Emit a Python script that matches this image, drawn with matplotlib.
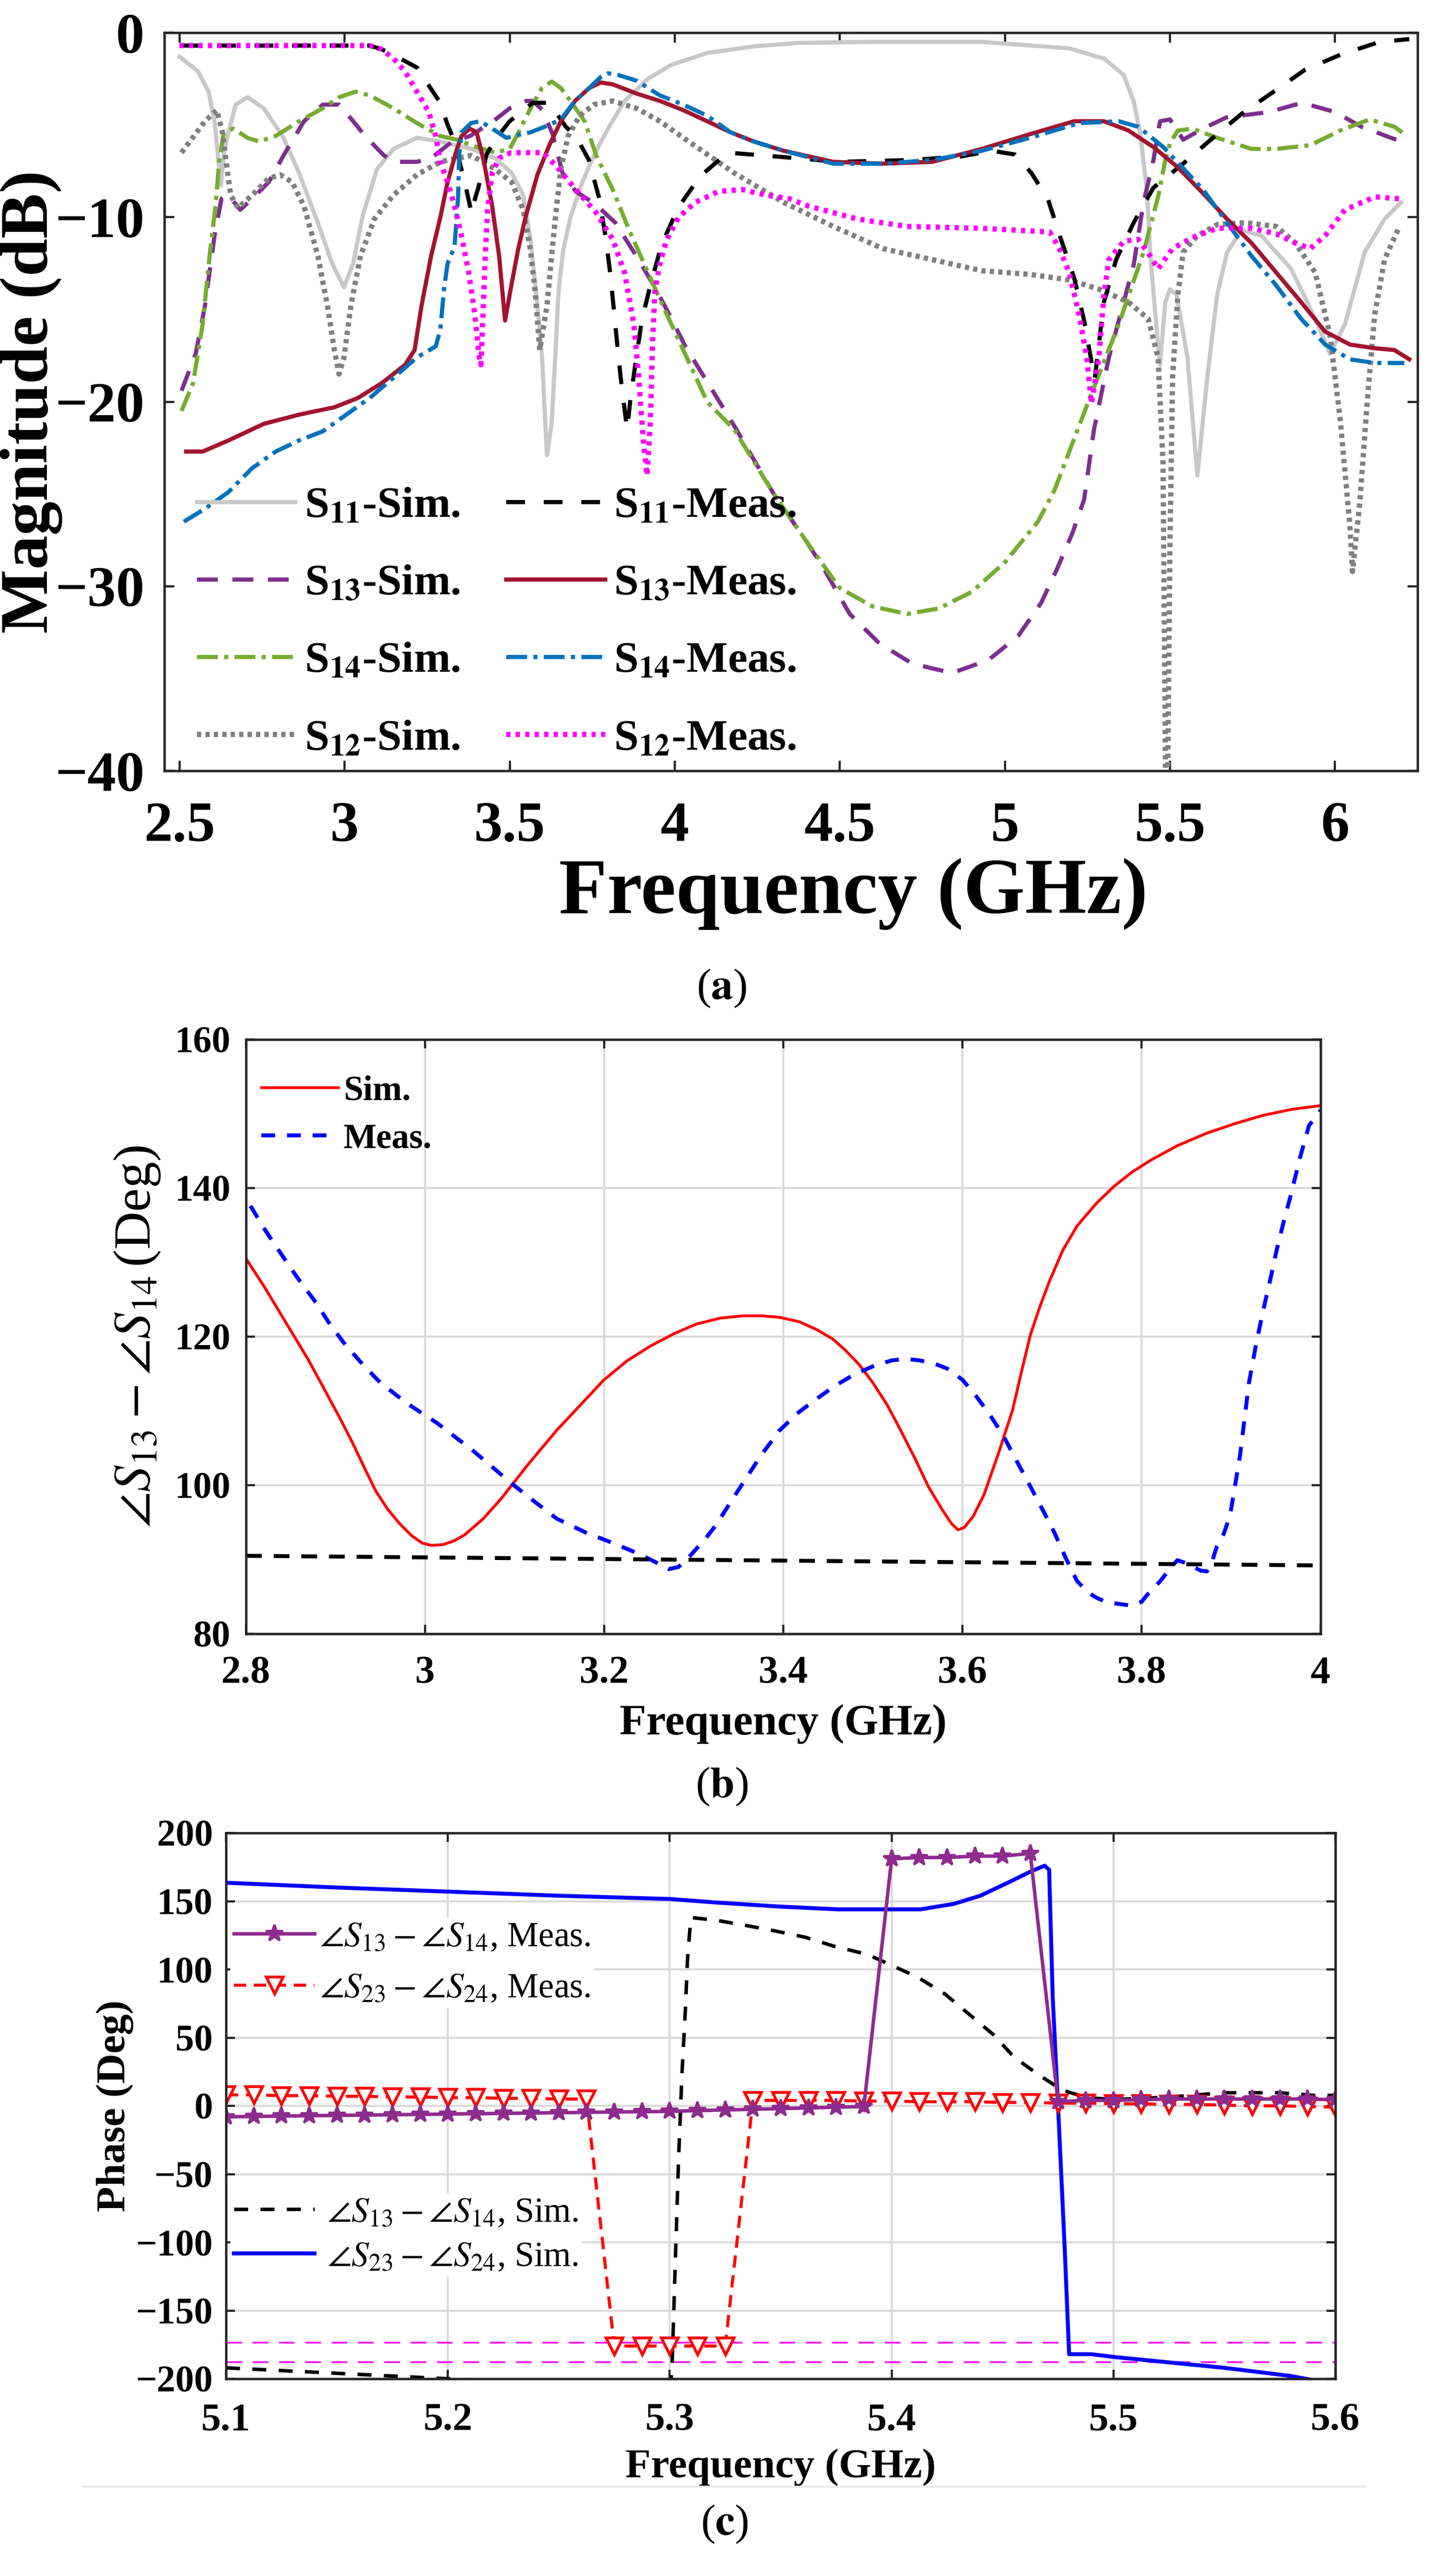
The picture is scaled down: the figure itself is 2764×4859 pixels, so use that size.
import numpy as np
import matplotlib
matplotlib.use("Agg")
import matplotlib.pyplot as plt
from matplotlib.lines import Line2D

plt.rcParams['font.family'] = ['Liberation Serif', 'DejaVu Serif']
plt.rcParams['mathtext.fontset'] = 'stix'

# ---------------- Panel (a) data: magnitude (dB) vs frequency (GHz) ----------------
s11_sim_f = [2.5, 2.556, 2.588, 2.606, 2.616, 2.625, 2.635, 2.648, 2.67, 2.706, 2.755, 2.812, 2.862, 2.919, 2.962,
             2.998, 3.026, 3.055, 3.098, 3.148, 3.219, 3.29, 3.384, 3.456, 3.506, 3.541, 3.563, 3.584, 3.598, 3.613,
             3.627, 3.638, 3.648, 3.662, 3.684, 3.72, 3.755, 3.798, 3.848, 3.919, 3.99, 4.098, 4.24, 4.38, 4.6, 4.93,
             5.195, 5.3, 5.36, 5.39, 5.41, 5.43, 5.44, 5.456, 5.47, 5.486, 5.5, 5.52, 5.553, 5.583, 5.613, 5.643,
             5.673, 5.717, 5.777, 5.867, 5.94, 5.985, 6.03, 6.09, 6.15, 6.2]
s11_sim_db = [-1.3, -2.1, -3.2, -4.8, -6.6, -8.3, -6.5, -5.4, -3.9, -3.5, -4.1, -5.6, -7.6, -10.3, -12.5,
              -13.8, -12.5, -9.9, -7.4, -6.3, -5.7, -5.9, -6.3, -6.8, -7.6, -8.8, -11.2, -14.8, -17.6, -22.9,
              -21.2, -17.6, -14.0, -11.8, -10.0, -8.1, -6.65, -5.2, -3.7, -2.5, -1.74, -1.1, -0.74, -0.55, -0.5, -0.5,
              -0.85, -1.4, -2.3, -3.7, -5.5, -8.5, -11.9, -15.3, -18.0, -14.6, -13.9, -14.2, -17.6, -24.0, -18.7, -14.2,
              -11.9, -10.7, -11.0, -12.8, -15.5, -17.4, -15.8, -11.9, -10.1, -9.2]

s11_meas_f = [2.5, 3.076, 3.112, 3.148, 3.22, 3.26, 3.29, 3.31, 3.335, 3.355, 3.37, 3.385, 3.395, 3.405, 3.43,
              3.456, 3.5, 3.57, 3.62, 3.67, 3.7, 3.74, 3.77, 3.79, 3.805, 3.816, 3.828, 3.84, 3.856, 3.866, 3.9,
              3.926, 3.96, 4.01, 4.076, 4.16, 4.3, 4.5, 4.72, 4.87, 4.96, 5.03, 5.08, 5.13, 5.17, 5.21, 5.24,
              5.262, 5.272, 5.3, 5.337, 5.39, 5.45, 5.54, 5.63, 5.717, 5.822, 5.91, 6.016, 6.135, 6.225]
s11_meas_db = [-0.7, -0.7, -0.9, -1.2, -1.9, -3.0, -3.8, -4.9, -6.0, -7.5, -8.6, -9.8, -9.0, -8.4, -6.6,
               -5.8, -4.8, -3.8, -3.8, -5.1, -5.6, -6.9, -8.9, -11.0, -13.1, -15.1, -17.3, -19.3, -21.5, -19.8, -15.6,
               -13.7, -11.5, -9.5, -7.8, -6.5, -6.7, -7.0, -6.9, -6.7, -6.4, -6.6, -7.6, -9.0, -11.2, -13.3, -15.6,
               -17.8, -18.8, -14.6, -12.3, -10.3, -8.4, -7.1, -5.7, -4.4, -3.1, -2.0, -1.2, -0.5, -0.35]

s13_sim_f = [2.506, 2.549, 2.577, 2.606, 2.627, 2.648, 2.684, 2.72, 2.77, 2.82, 2.877, 2.934, 2.983, 3.026,
             3.062, 3.119, 3.148, 3.219, 3.262, 3.326, 3.38, 3.45, 3.5, 3.55, 3.57, 3.6, 3.63, 3.66, 3.7, 3.76,
             3.82, 3.88, 3.94, 3.99, 4.032, 4.18, 4.3, 4.4, 4.45, 4.53, 4.62, 4.72, 4.84, 4.95, 5.04, 5.11, 5.157,
             5.205, 5.24, 5.27, 5.315, 5.36, 5.39, 5.42, 5.45, 5.47, 5.5, 5.54, 5.6, 5.67, 5.8, 5.9, 6.0, 6.08, 6.2]
s13_sim_db = [-19.4, -17.4, -14.8, -11.0, -9.0, -8.8, -9.6, -9.0, -8.1, -6.5, -4.8, -3.9, -3.9, -4.8,
              -5.6, -6.65, -7.0, -7.0, -6.8, -5.9, -5.6, -4.8, -4.1, -3.7, -3.7, -4.2, -5.5, -7.6, -8.6, -9.3,
              -10.3, -12.0, -13.8, -15.5, -17.0, -21.3, -25.0, -27.6, -29.0, -31.5, -33.1, -34.2, -34.7, -34.0,
              -32.7, -30.9, -29.1, -27.1, -25.3, -21.5, -17.6, -14.6, -12.6, -9.2, -6.9, -4.8, -4.7, -5.8, -5.2, -4.6,
              -4.3, -3.8, -4.3, -5.1, -5.9]

s13_meas_f = [2.52, 2.57, 2.648, 2.755, 2.862, 2.969, 3.04, 3.112, 3.183, 3.212, 3.233, 3.262, 3.29, 3.312,
              3.337, 3.354, 3.379, 3.4, 3.422, 3.447, 3.468, 3.486, 3.504, 3.525, 3.548, 3.584, 3.62, 3.655, 3.698,
              3.741, 3.776, 3.812, 3.884, 3.955, 4.026, 4.098, 4.169, 4.24, 4.33, 4.48, 4.63, 4.78, 4.93, 5.076,
              5.21, 5.3, 5.374, 5.45, 5.524, 5.6, 5.673, 5.747, 5.822, 5.897, 5.97, 6.045, 6.12, 6.18, 6.225]
s13_meas_db = [-22.7, -22.7, -22.1, -21.2, -20.7, -20.3, -19.8, -19.0, -18.0, -17.2, -14.8, -12.1, -10.0, -8.1,
               -6.5, -5.6, -5.2, -5.4, -7.0, -9.4, -12.1, -15.6, -13.8, -11.8, -10.0, -7.7, -6.1, -4.8, -3.7,
               -3.0, -2.7, -2.8, -3.3, -3.7, -4.2, -4.8, -5.4, -5.9, -6.4, -7.0, -7.1, -7.0, -6.3, -5.5,
               -4.8, -4.8, -5.3, -6.2, -7.3, -8.7, -10.1, -11.4, -13.0, -14.6, -16.2, -16.9, -17.1, -17.2, -17.7]

s14_sim_f = [2.506, 2.541, 2.57, 2.591, 2.609, 2.62, 2.634, 2.663, 2.706, 2.741, 2.791, 2.862, 2.934, 2.983,
             3.033, 3.076, 3.148, 3.219, 3.29, 3.34, 3.384, 3.456, 3.5, 3.527, 3.563, 3.598, 3.627, 3.655, 3.684,
             3.727, 3.762, 3.812, 3.862, 3.919, 3.969, 4.026, 4.098, 4.18, 4.3, 4.4, 4.5, 4.6, 4.705, 4.8, 4.9,
             5.0, 5.1, 5.15, 5.255, 5.345, 5.42, 5.464, 5.486, 5.5, 5.524, 5.568, 5.643, 5.747, 5.822, 5.925, 6.016,
             6.105, 6.18, 6.21]
s14_sim_db = [-20.5, -19.0, -15.8, -12.1, -9.4, -7.0, -5.4, -5.2, -5.7, -5.9, -5.6, -4.8, -4.1, -3.5,
              -3.2, -3.4, -4.1, -4.9, -5.6, -5.8, -6.1, -6.5, -6.3, -5.4, -4.1, -3.0, -2.65, -3.0, -3.7,
              -4.8, -6.65, -8.5, -10.7, -13.0, -15.0, -17.2, -20.0, -21.5, -25.0, -27.6, -30.1, -31.1, -31.5, -31.2,
              -30.3, -28.7, -26.5, -24.8, -19.9, -15.8, -11.9, -8.9, -6.9, -6.0, -5.3, -5.2, -5.7, -6.3, -6.3, -6.1,
              -5.3, -4.7, -5.1, -5.5]

s14_meas_f = [2.513, 2.577, 2.648, 2.72, 2.791, 2.862, 2.934, 3.005, 3.076, 3.148, 3.219, 3.276, 3.29, 3.301,
              3.312, 3.333, 3.344, 3.347, 3.354, 3.383, 3.411, 3.447, 3.49, 3.563, 3.62, 3.655, 3.698, 3.741,
              3.776, 3.798, 3.83, 3.884, 3.955, 4.026, 4.098, 4.169, 4.24, 4.33, 4.48, 4.63, 4.78, 4.93, 5.076,
              5.225, 5.345, 5.404, 5.48, 5.6, 5.673, 5.747, 5.822, 5.897, 5.97, 6.045, 6.12, 6.21]
s14_meas_db = [-26.5, -25.8, -24.9, -23.6, -22.7, -22.1, -21.6, -20.7, -19.8, -18.7, -17.6, -17.0, -16.1, -13.9,
               -12.5, -11.6, -8.8, -6.65, -5.4, -4.9, -4.8, -5.2, -5.7, -5.4, -5.0, -4.7, -3.7, -3.0,
               -2.4, -2.2, -2.3, -2.6, -3.4, -3.9, -4.5, -5.4, -5.9, -6.4, -7.1, -7.1, -6.9, -6.4, -5.7,
               -4.9, -4.8, -5.1, -6.2, -8.5, -10.3, -12.1, -13.7, -15.5, -16.9, -17.7, -17.9, -17.9]

s12_sim_f = [2.506, 2.577, 2.613, 2.63, 2.641, 2.655, 2.677, 2.72, 2.77, 2.805, 2.841, 2.877, 2.919, 2.948,
             2.969, 2.983, 2.998, 3.019, 3.048, 3.09, 3.148, 3.219, 3.29, 3.384, 3.456, 3.506, 3.541, 3.563, 3.577,
             3.591, 3.613, 3.627, 3.641, 3.655, 3.677, 3.712, 3.755, 3.812, 3.884, 3.955, 4.026, 4.18, 4.33, 4.48,
             4.63, 4.78, 4.93, 5.076, 5.195, 5.285, 5.374, 5.434, 5.464, 5.479, 5.487, 5.493, 5.5, 5.508, 5.524,
             5.54, 5.583, 5.643, 5.73, 5.822, 5.88, 5.94, 5.985, 6.016, 6.045, 6.053, 6.075, 6.098, 6.12, 6.15, 6.195]
s12_sim_db = [-6.5, -4.8, -4.2, -5.4, -7.0, -8.8, -9.5, -8.8, -7.9, -7.7, -8.1, -9.4, -12.1, -14.8,
              -17.2, -18.5, -17.6, -14.8, -12.1, -10.1, -8.8, -7.7, -7.0, -6.65, -7.4, -8.1, -9.6, -11.8, -14.0,
              -17.2, -14.8, -12.1, -9.6, -7.4, -5.6, -4.5, -3.9, -3.7, -4.1, -4.8, -5.7, -7.6, -9.2, -10.5,
              -11.7, -12.3, -12.9, -13.1, -13.4, -13.9, -14.6, -15.5, -17.6, -23.3, -41.0, -41.0, -27.8, -18.7, -14.2,
              -11.9, -11.0, -10.4, -10.3, -10.5, -11.4, -13.0, -16.4, -21.0, -26.7, -29.2, -25.5, -19.9, -15.3, -12.3,
              -10.5]

s12_meas_f = [2.5, 3.076, 3.112, 3.148, 3.183, 3.219, 3.255, 3.276, 3.29, 3.312, 3.333, 3.354, 3.376, 3.394,
              3.408, 3.413, 3.418, 3.426, 3.433, 3.447, 3.468, 3.504, 3.6, 3.64, 3.7, 3.76, 3.812, 3.848, 3.876,
              3.89, 3.905, 3.916, 3.926, 3.933, 3.94, 3.955, 3.976, 4.012, 4.062, 4.133, 4.204, 4.276, 4.347, 4.405,
              4.554, 4.703, 4.927, 5.136, 5.165, 5.195, 5.225, 5.248, 5.262, 5.285, 5.3, 5.315, 5.36, 5.404, 5.44,
              5.464, 5.508, 5.568, 5.643, 5.747, 5.822, 5.88, 5.925, 5.97, 6.03, 6.12, 6.195]
s12_meas_db = [-0.7, -0.7, -0.9, -1.4, -2.1, -3.2, -4.3, -5.6, -7.0, -8.1, -9.4, -11.0, -13.0, -15.2,
               -17.6, -18.0, -15.8, -12.1, -9.6, -7.6, -6.8, -6.5, -6.5, -7.2, -8.5, -9.7, -11.2, -13.0, -15.8,
               -18.5, -22.1, -24.0, -21.2, -16.7, -14.0, -12.5, -11.2, -10.0, -9.2, -8.6, -8.5, -8.8, -9.0, -9.4,
               -10.1, -10.5, -10.6, -10.8, -11.7, -13.0, -15.3, -17.6, -20.1, -17.6, -14.2, -12.3, -11.3, -11.2, -12.1,
               -12.8, -11.7, -11.1, -10.6, -10.6, -10.9, -11.4, -11.7, -11.0, -9.6, -8.9, -9.0]

a_xticks = [2.5, 3, 3.5, 4, 4.5, 5, 5.5, 6]
a_xticklabels = ['2.5', '3', '3.5', '4', '4.5', '5', '5.5', '6']
a_yticks = [-40, -30, -20, -10, 0]

# ---------------- Panel (b) data ----------------
b_sim_f = [2.8, 2.82, 2.847, 2.87, 2.888, 2.905, 2.919, 2.932, 2.945, 2.958, 2.971, 2.985, 2.997, 3.007, 3.02,
           3.032, 3.044, 3.065, 3.085, 3.115, 3.147, 3.175, 3.199, 3.225, 3.251, 3.278, 3.303, 3.33, 3.355, 3.376,
           3.396, 3.418, 3.438, 3.455, 3.469, 3.485, 3.5, 3.516, 3.531, 3.547, 3.562, 3.578, 3.588, 3.595, 3.602,
           3.612, 3.624, 3.64, 3.656, 3.666, 3.676, 3.687, 3.697, 3.712, 3.728, 3.75, 3.77, 3.79, 3.811, 3.84,
           3.873, 3.905, 3.936, 3.968, 4.0]
b_sim_deg = [130.5, 126.8, 121.4, 116.8, 112.8, 109.0, 105.7, 102.4, 99.2, 96.8, 94.9, 93.2, 92.2, 91.9, 92.0,
             92.5, 93.3, 95.5, 98.2, 102.8, 107.4, 111.0, 114.1, 116.7, 118.7, 120.4, 121.7, 122.5, 122.8, 122.8,
             122.6, 122.0, 120.9, 119.7, 118.2, 116.2, 113.8, 110.8, 107.4, 103.6, 99.8, 96.6, 94.8, 94.0, 94.3,
             95.8, 98.7, 104.2, 110.1, 115.3, 120.3, 124.2, 127.4, 131.6, 134.9, 138.0, 140.3, 142.2, 143.8, 145.7,
             147.4, 148.7, 149.8, 150.6, 151.1]
b_meas_f = [2.805, 2.82, 2.836, 2.857, 2.878, 2.893, 2.909, 2.93, 2.95, 2.98, 3.013, 3.054, 3.096, 3.12, 3.147,
            3.18, 3.21, 3.24, 3.258, 3.272, 3.283, 3.293, 3.313, 3.324, 3.34, 3.355, 3.375, 3.396, 3.417, 3.438,
            3.458, 3.479, 3.5, 3.521, 3.537, 3.552, 3.568, 3.583, 3.6, 3.614, 3.63, 3.645, 3.66, 3.676, 3.69,
            3.702, 3.715, 3.728, 3.74, 3.749, 3.76, 3.77, 3.788, 3.8, 3.806, 3.821, 3.832, 3.84, 3.85, 3.858,
            3.866, 3.873, 3.879, 3.884, 3.892, 3.899, 3.91, 3.92, 3.928, 3.936, 3.944, 3.951, 3.959, 3.967, 3.977,
            3.987, 4.0]
b_meas_deg = [137.6, 134.6, 131.7, 128.0, 124.6, 121.8, 119.2, 116.3, 113.8, 111.0, 108.4, 104.6, 100.3, 98.0,
              95.5, 93.6, 92.2, 90.7, 89.6, 88.7, 89.0, 90.1, 92.8, 94.5, 97.5, 100.3, 104.0, 107.4, 109.8, 111.7,
              113.4, 114.9, 116.0, 116.8, 117.0, 116.8, 116.4, 115.7, 114.2, 112.2, 109.6, 106.8, 103.4, 99.8, 96.6,
              93.8, 90.3, 87.1, 85.6, 84.9, 84.3, 84.1, 83.8, 84.3, 85.2, 87.1, 88.8, 89.9, 89.5, 89.0,
              88.5, 88.4, 89.8, 91.7, 93.5, 96.0, 104.0, 113.8, 119.0, 123.6, 127.8, 131.7, 135.6, 139.2, 144.1,
              148.4, 150.5]
b_ref_f = [2.8, 4.0]
b_ref_deg = [90.5, 89.2]

# ---------------- Panel (c) data ----------------
c_meas_f = [5.1, 5.1125, 5.125, 5.1375, 5.15, 5.1625, 5.175, 5.1875, 5.2, 5.2125, 5.225, 5.2375, 5.25, 5.2625,
            5.275, 5.2875, 5.3, 5.3125, 5.325, 5.3375, 5.35, 5.3625, 5.375, 5.3875, 5.4, 5.4125, 5.425, 5.4375,
            5.45, 5.4625, 5.475, 5.4875, 5.5, 5.5125, 5.525, 5.5375, 5.55, 5.5625, 5.575, 5.5875, 5.6]
c_s1314_meas = [-8, -7.8, -7.5, -7.2, -7, -6.8, -6.5, -6.3, -6, -5.8, -5.5, -5.3, -5, -4.8,
                -4.5, -4.3, -4, -3.5, -3, -2.5, -2, -1.5, -1, -0.5, 181, 182, 182, 183,
                183, 185, 3, 4, 4, 4.5, 5, 5, 5, 5, 5, 5, 4.5]
c_s2324_meas = [8, 8, 7.5, 7.5, 7, 7, 6.5, 6.5, 6, 6, 5.5, 5.5, 5, 5,
                -176, -176, -176, -176, -176, 4, 4, 4, 4, 3.5, 3.5, 3, 3, 3,
                2.5, 2.5, 2, 2, 1.5, 1.5, 1, 1, 0.5, 0, 0, -0.5, -1]
c_s1314_sim_f = [5.1, 5.15, 5.2, 5.25, 5.3, 5.301, 5.3025, 5.304, 5.3055, 5.307, 5.308, 5.3095, 5.321, 5.335,
                 5.348, 5.361, 5.374, 5.389, 5.4, 5.412, 5.424, 5.435, 5.446, 5.455, 5.466, 5.477, 5.488, 5.5,
                 5.52, 5.535, 5.55, 5.575, 5.59, 5.6]
c_s1314_sim = [-192, -196, -200, -205, -210, -193, -115, -38, 23, 69, 107, 138, 136, 132,
               128, 123.6, 117, 111, 103, 94, 82, 67, 52, 36, 23, 11.5, 6, 4.6,
               6, 7.7, 9.6, 9.6, 7.7, 7.7]
c_s2324_sim_f = [5.1, 5.15, 5.2, 5.25, 5.3, 5.321, 5.35, 5.376, 5.413, 5.428, 5.44, 5.453, 5.463, 5.469,
                 5.471, 5.4726, 5.475, 5.478, 5.48, 5.49, 5.5, 5.55, 5.58, 5.59]
c_s2324_sim = [163.5, 160, 157, 154, 151.6, 149, 146, 144, 144, 148, 154, 164, 172, 176,
               173, 80, 0, -104, -182, -182, -184, -192, -198, -201]
c_ref_levels = [-173.5, -187.5]
c_ref_f = [5.1, 5.6]

# ---------------- Figure ----------------
W, H = 2764, 4859
fig = plt.figure(figsize=(W / 300, H / 300), dpi=300)


def px_axes(l, t, r, b):
    return fig.add_axes([l / W, 1 - b / H, (r - l) / W, (b - t) / H])


SPINE = '#262626'

# ===== (a) =====
ax = px_axes(312, 62, 2691, 1463)
c_gray_l = '#c8c8c8'
c_purple = '#7e2f8e'
c_green = '#77ac30'
c_gray_d = '#808080'
c_crimson = '#a2142f'
c_blue = '#0072bd'
c_mag = '#ff00ff'

l11s, = ax.plot(s11_sim_f, s11_sim_db, color=c_gray_l, lw=1.9, ls='-')
l13s, = ax.plot(s13_sim_f, s13_sim_db, color=c_purple, lw=1.9, ls=(0, (5, 3.5)))
l14s, = ax.plot(s14_sim_f, s14_sim_db, color=c_green, lw=1.9, ls=(0, (5, 1.5, 1, 1.5)))
l12s, = ax.plot(s12_sim_f, s12_sim_db, color=c_gray_d, lw=2.4, ls=(0, (0.8, 0.8)))
l11m, = ax.plot(s11_meas_f, s11_meas_db, color='black', lw=1.9, ls=(0, (4.5, 4.5)))
l13m, = ax.plot(s13_meas_f, s13_meas_db, color=c_crimson, lw=1.9, ls='-')
l14m, = ax.plot(s14_meas_f, s14_meas_db, color=c_blue, lw=1.9, ls=(0, (5, 1.5, 1, 1.5)))
l12m, = ax.plot(s12_meas_f, s12_meas_db, color=c_mag, lw=2.4, ls=(0, (0.8, 1.0)))

ax.set_xlim(2.454, 6.25)
ax.set_ylim(-40, 0)
ax.set_xticks(a_xticks)
ax.set_xticklabels(a_xticklabels)
ax.set_yticks(a_yticks)
ax.tick_params(direction='in', top=True, right=True, length=4.5, width=1.0, color=SPINE)
ax.tick_params(axis='x', labelsize=26, pad=14)
ax.tick_params(axis='y', labelsize=26, pad=9)
for t in ax.get_xticklabels() + ax.get_yticklabels():
    t.set_fontweight('bold')
for s in ax.spines.values():
    s.set_linewidth(1.1)
    s.set_color(SPINE)
ax.set_xlabel('Frequency (GHz)', fontsize=36, fontweight='bold')
ax.set_ylabel('Magnitude (dB)', fontsize=31, fontweight='bold')
ax.xaxis.set_label_coords(0.55, -0.118)
ax.yaxis.set_label_coords(-0.081, 0.5)

handles = [l11s, l13s, l14s, l12s, l11m, l13m, l14m, l12m]
labels = [r'S$_{\mathbf{11}}$-Sim.', r'S$_{\mathbf{13}}$-Sim.', r'S$_{\mathbf{14}}$-Sim.', r'S$_{\mathbf{12}}$-Sim.',
          r'S$_{\mathbf{11}}$-Meas.', r'S$_{\mathbf{13}}$-Meas.', r'S$_{\mathbf{14}}$-Meas.', r'S$_{\mathbf{12}}$-Meas.']
leg = ax.legend(handles, labels, ncol=2, loc='upper left', bbox_to_anchor=(0.026, 0.385),
                frameon=False, prop={'size': 20, 'weight': 'bold'}, handlelength=2.25,
                handletextpad=0.2, columnspacing=1.05, labelspacing=0.85, borderpad=0, borderaxespad=0)

fig.text(1370 / W, 1 - 1876 / H, r'($\mathbf{a}$)', ha='center', va='center', fontsize=20)

# ===== (b) =====
bx = px_axes(467, 1973, 2507, 3101)
bx.grid(True, color='#d9d9d9', lw=0.9)
bx.set_axisbelow(True)
bs, = bx.plot(b_sim_f, b_sim_deg, color='red', lw=1.3, ls='-')
bm, = bx.plot(b_meas_f, b_meas_deg, color='blue', lw=1.8, ls=(0, (3.5, 3)))
bx.plot(b_ref_f, b_ref_deg, color='black', lw=1.8, ls=(0, (4, 3)))
bx.set_xlim(2.8, 4.0)
bx.set_ylim(80, 160)
bx.set_xticks([2.8, 3.0, 3.2, 3.4, 3.6, 3.8, 4.0])
bx.set_xticklabels(['2.8', '3', '3.2', '3.4', '3.6', '3.8', '4'])
bx.set_yticks([80, 100, 120, 140, 160])
bx.tick_params(direction='in', top=True, right=True, length=4, width=1.0, color=SPINE)
bx.tick_params(axis='x', labelsize=18, pad=10)
bx.tick_params(axis='y', labelsize=17, pad=7)
for t in bx.get_xticklabels() + bx.get_yticklabels():
    t.set_fontweight('bold')
for s in bx.spines.values():
    s.set_linewidth(1.1)
    s.set_color(SPINE)
bx.set_xlabel('Frequency (GHz)', fontsize=20, fontweight='bold')
bx.set_ylabel(r'$\angle S_{13} - \angle S_{14}\,$(Deg)', fontsize=24)
bx.xaxis.set_label_coords(0.5, -0.118)
bx.yaxis.set_label_coords(-0.078, 0.5)
bx.legend([bs, bm], ['Sim.', 'Meas.'], loc='upper left', bbox_to_anchor=(0.014, 0.94), frameon=False,
          prop={'size': 16, 'weight': 'bold'}, handlelength=2.2, handletextpad=0.15, labelspacing=0.45,
          borderpad=0, borderaxespad=0)
fig.text(1370 / W, 1 - 3391 / H, r'($\mathbf{b}$)', ha='center', va='center', fontsize=20)

# ===== (c) =====
cx = px_axes(429, 3479, 2535, 4515)
cx.grid(True, color='#d9d9d9', lw=0.9)
cx.set_axisbelow(True)
for lev in c_ref_levels:
    cx.plot(c_ref_f, [lev, lev], color='#ff00ff', lw=0.8, ls=(0, (9, 6)))
cs13, = cx.plot(c_s1314_sim_f, c_s1314_sim, color='black', lw=1.6, ls=(0, (4, 3.5)))
cs23, = cx.plot(c_s2324_sim_f, c_s2324_sim, color='blue', lw=1.8, ls='-')
cm23, = cx.plot(c_meas_f, c_s2324_meas, color='red', lw=1.4, ls=(0, (4, 2.5)), marker='v', ms=7.5,
                mfc='white', mec='red', mew=1.3)
cm13, = cx.plot(c_meas_f, c_s1314_meas, color='#8e2b8e', lw=1.6, ls='-', marker='*', ms=8,
                mfc='#8e2b8e', mec='#8e2b8e')
cx.set_xlim(5.1, 5.6)
cx.set_ylim(-200, 200)
cx.set_xticks([5.1, 5.2, 5.3, 5.4, 5.5, 5.6])
cx.set_yticks([-200, -150, -100, -50, 0, 50, 100, 150, 200])
cx.tick_params(direction='in', top=True, right=True, length=4, width=1.0, color=SPINE)
cx.tick_params(axis='x', labelsize=18, pad=11)
cx.tick_params(axis='y', labelsize=17, pad=6)
for t in cx.get_xticklabels() + cx.get_yticklabels():
    t.set_fontweight('bold')
for s in cx.spines.values():
    s.set_linewidth(1.1)
    s.set_color(SPINE)
cx.set_xlabel('Frequency (GHz)', fontsize=19, fontweight='bold')
cx.set_ylabel('Phase (Deg)', fontsize=19, fontweight='bold')
cx.xaxis.set_label_coords(0.5, -0.128)
cx.yaxis.set_label_coords(-0.083, 0.5)

leg1 = cx.legend([cm13, cm23], [r'$\angle S_{13}-\angle S_{14}$, Meas.', r'$\angle S_{23}-\angle S_{24}$, Meas.'],
                 loc='upper left', bbox_to_anchor=(0.004, 0.845), frameon=True, facecolor='white',
                 edgecolor='none', framealpha=1, fancybox=False, prop={'size': 16}, handlelength=2.3,
                 handletextpad=0.15, labelspacing=0.55, borderpad=0.1, borderaxespad=0)
cx.add_artist(leg1)
cx.legend([cs13, cs23], [r'$\angle S_{13}-\angle S_{14}$, Sim.', r'$\angle S_{23}-\angle S_{24}$, Sim.'],
          loc='upper left', bbox_to_anchor=(0.004, 0.34), frameon=True, facecolor='white',
          edgecolor='none', framealpha=1, fancybox=False, prop={'size': 16}, handlelength=2.3,
          handletextpad=0.35, labelspacing=0.35, borderpad=0.1, borderaxespad=0)

fig.add_artist(Line2D([156 / W, 2592 / W], [1 - 4720 / H, 1 - 4720 / H], color='#ececec', lw=1.0))
fig.text(1375 / W, 1 - 4791 / H, r'($\mathbf{c}$)', ha='center', va='center', fontsize=20)

fig.savefig('out.png', dpi=300)
